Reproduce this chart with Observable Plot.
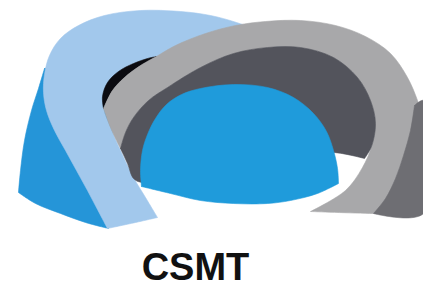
<!DOCTYPE html>
<html>
<head>
<meta charset="utf-8">
<script src="https://cdn.jsdelivr.net/npm/d3@7"></script>
<script src="https://cdn.jsdelivr.net/npm/@observablehq/plot@0.6"></script>
<style>
  html, body { margin: 0; padding: 0; background: #ffffff; }
  #chart svg { display: block; }
</style>
</head>
<body>
<div id="chart"></div>
<script>
// Logo shapes as outline points (pixel space: x right, y down).
// A repeated point marks a sharp corner.
const darkBlueWall = [[44,68],[44,68],[38,88],[31,110],[24,140],[20,170],[18,192],[18,192],[35,203],[60,213],[85,222],[108,228],[108,228],[115,150],[85,68]];
const lightBlueBand = [[107,228],[107,228],[97,209],[87,190],[76,170],[65,150],[54,130],[46,110],[43,92],[44,74],[49,55],[60,38],[78,25],[104,15],[140,10],[180,11],[210,15],[236,22],[262,32],[282,46],[282,46],[200,46],[160,55],[147,58],[133,63],[120,70],[110,80],[104,95],[103,108],[110,127],[120,150],[133,177],[145,197],[157,217],[157,217],[135,222]];
const blackCrescent = [[103,108],[103,108],[102,96],[107,82],[118,71],[133,63],[147,58],[156,56],[156,56],[140,65],[124,77],[112,90],[103,108]];
const lightGrayRing = [[120,148],[120,148],[125,132],[133,117],[148,100],[167,87],[200,67],[233,53],[267,47],[300,47],[333,57],[357,77],[370,100],[375,123],[371,146],[362,167],[345,190],[310,211],[310,211],[373,213],[423,213],[423,213],[423,120],[417,100],[407,77],[390,53],[365,36],[335,25],[300,20],[265,21],[235,25],[205,33],[175,45],[156,56],[156,56],[140,65],[124,77],[112,90],[103,108],[103,108],[110,127]];
const darkGrayInner = [[120,148],[120,148],[125,132],[133,117],[148,100],[167,87],[200,67],[233,53],[267,47],[300,47],[333,57],[357,77],[370,100],[375,123],[371,146],[364,158],[364,158],[333,152],[300,155],[200,172],[142,182],[133,178],[127,163]];
const blueDome = [[141,186],[141,186],[140,170],[142,150],[147,134],[155,118],[166,104],[181,94],[200,88],[233,84],[267,87],[293,97],[313,113],[326,131],[333,150],[337,168],[338,183],[338,183],[317,193],[290,200],[267,203],[233,203],[200,200],[170,193]];
const darkSide = [[414,105],[414,105],[423,100],[423,213],[373,213],[373,213],[385,198],[395,178],[403,155],[410,130]];
const labels = ["CSMT"];

const pt = {x: d => d[0], y: d => d[1], curve: "catmull-rom-closed"};
const shape = (data, color) => Plot.line(data, {...pt, fill: color, stroke: color, strokeWidth: 0.6});

const chart = Plot.plot({
  width: 423,
  height: 288,
  margin: 0,
  x: {domain: [0, 423], axis: null},
  y: {domain: [0, 288], reverse: true, axis: null},
  style: {background: "#ffffff"},
  marks: [
    shape(darkBlueWall, "#2595d8"),
    shape(lightBlueBand, "#a2c8ec"),
    shape(blackCrescent, "#0b0b10"),
    shape(lightGrayRing, "#a8a8aa"),
    shape(darkGrayInner, "#53545c"),
    shape(blueDome, "#1f9bdb"),
    shape(darkSide, "#6e6e73"),
    Plot.text(labels, {
      text: d => d,
      x: () => 195,
      y: () => 267.5,
      textAnchor: "middle",
      lineAnchor: "middle",
      fontSize: 38,
      fontWeight: "bold",
      fontFamily: "Liberation Sans, Arial, sans-serif",
      fill: "#111111"
    })
  ]
});
document.getElementById("chart").appendChild(chart);
</script>
</body>
</html>
